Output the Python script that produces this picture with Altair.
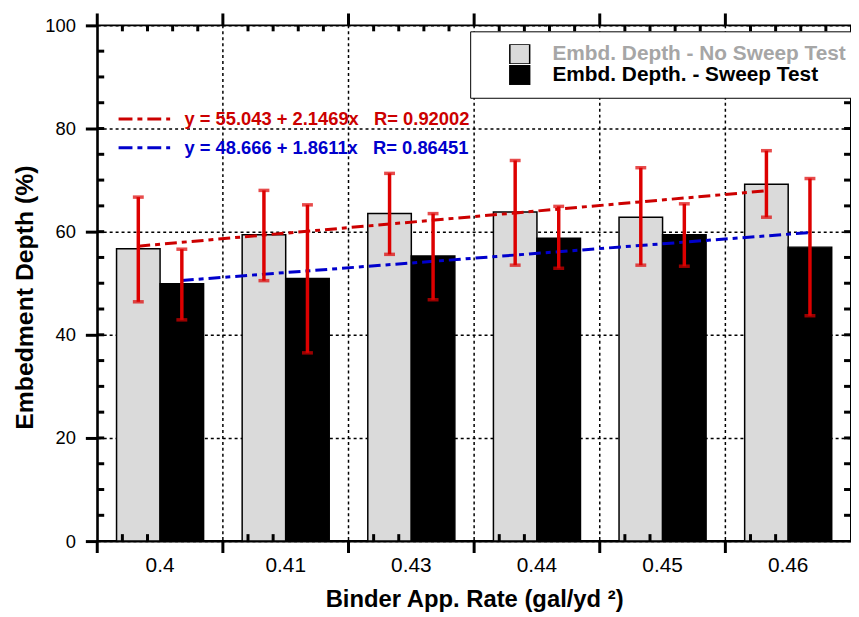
import altair as alt
import pandas as pd

# ---------------- data ----------------
categories = ["0.4", "0.41", "0.43", "0.44", "0.45", "0.46"]
series_names = ["Embd. Depth - No Sweep Test", "Embd. Depth. - Sweep Test"]

no_sweep = [56.7, 59.4, 63.5, 63.8, 62.8, 69.2]
no_sweep_low = [46.4, 50.5, 55.6, 53.5, 53.5, 62.8]
no_sweep_high = [66.7, 68.0, 71.3, 73.8, 72.4, 75.7]

sweep = [49.9, 50.9, 55.3, 58.7, 59.4, 57.0]
sweep_low = [42.9, 36.5, 46.8, 52.9, 53.3, 43.7]
sweep_high = [56.6, 65.2, 63.5, 64.9, 65.4, 70.3]

fit_labels = ["y = 55.043 + 2.1469x\u00a0\u00a0\u00a0R= 0.92002",
              "y = 48.666 + 1.8611x\u00a0\u00a0\u00a0R= 0.86451"]
fit_no_sweep = [57.19, 59.34, 61.48, 63.63, 65.78, 67.92]
fit_sweep = [50.53, 52.39, 54.25, 56.11, 57.97, 59.83]

y_ticks = [0, 20, 40, 60, 80, 100]
y_minor = [5 * k for k in range(1, 20)]
minor_fracs = [0.2, 0.4, 0.6, 0.8]

# ---------------- tables ----------------
rows = []
for i, c in enumerate(categories):
    rows.append(dict(cat=c, series=series_names[0], value=no_sweep[i], lo=no_sweep_low[i],
                     hi=no_sweep_high[i], fit=fit_no_sweep[i], fitlabel=fit_labels[0]))
    rows.append(dict(cat=c, series=series_names[1], value=sweep[i], lo=sweep_low[i],
                     hi=sweep_high[i], fit=fit_sweep[i], fitlabel=fit_labels[1]))
df = pd.DataFrame(rows)
cat_df = pd.DataFrame({"cat": categories})
inner_df = pd.DataFrame({"cat": categories[1:]})
ymin_df = pd.DataFrame({"v": y_minor})

W, H = 760, 520
FONT = "Liberation Sans, Arial, Helvetica, sans-serif"
ERR_RED = "#dd0000"
FIT_RED = "#cc0000"
FIT_BLUE = "#0000cc"
HATCH = "#dadada"

y_scale = alt.Scale(domain=[0, 100], nice=False)
y_axis = alt.Axis(values=y_ticks, title="Embedment Depth (%)", tickSize=12, tickWidth=3,
                  grid=True, gridDash=[3, 3], gridColor="black", gridWidth=1.5,
                  labelPadding=10, titleX=-65, titleY=274, titleBaseline="alphabetic",
                  titleAlign="center", titleAngle=270)


def yq(field):
    return alt.Y(field, scale=y_scale, axis=y_axis)


x_scale = alt.Scale(domain=categories, paddingInner=0, paddingOuter=0)
x_axis = alt.Axis(title="Binder App. Rate (gal/yd\u00a0\u00b2)", ticks=True, tickSize=12,
                  tickOpacity=0, grid=False, labelAngle=0, labelPadding=2,
                  titleY=66, titleBaseline="alphabetic")
x_main = alt.X("cat:N", sort=categories, scale=x_scale, axis=x_axis)
x_plain = alt.X("cat:N", sort=categories, axis=x_axis)
xoff = alt.XOffset("series:N", scale=alt.Scale(domain=series_names, paddingInner=0, paddingOuter=0.443))

fill_legend = alt.Legend(
    title=None, orient="none", legendX=376, legendY=6, direction="vertical",
    fillColor="white", strokeColor="black", padding=13,
    symbolType="square", symbolSize=400, symbolStrokeColor="black", symbolStrokeWidth=1.5,
    symbolOffset=26, labelOffset=22, labelFont=FONT, labelFontSize=21, labelFontWeight="bold",
    labelColor=alt.ExprRef(expr="datum.label == 'Embd. Depth - No Sweep Test' ? '#a6a6a6' : 'black'"),
    clipHeight=20, rowPadding=0, labelLimit=600)

stroke_legend = alt.Legend(
    title=None, orient="none", legendX=20, legendY=80, direction="vertical", padding=0,
    symbolType="stroke", symbolSize=2704, symbolStrokeWidth=3, symbolDash=[14, 5, 5, 5],
    labelOffset=13, labelFont=FONT, labelFontSize=18.5, labelFontWeight="bold",
    labelColor=alt.ExprRef(expr="indexof(datum.label, '55.043') >= 0 ? '" + FIT_RED + "' : '" + FIT_BLUE + "'"),
    clipHeight=29, rowPadding=0, labelLimit=600)

vgrid = alt.Chart(inner_df).mark_rule(color="black", strokeWidth=1.5, strokeDash=[3, 3]).encode(
    x=alt.X("cat:N", bandPosition=0, axis=x_axis), y=alt.value(0), y2=alt.value(H))

bars = alt.Chart(df).mark_bar(stroke="black", strokeWidth=1.5).encode(
    x=x_main, xOffset=xoff, y=yq("value:Q"),
    fill=alt.Fill("series:N", scale=alt.Scale(domain=series_names, range=[HATCH, "black"]),
                  legend=fill_legend))

fit = alt.Chart(df).mark_line(strokeWidth=3, strokeDash=[12, 5, 5, 5]).encode(
    x=x_plain, xOffset="series:N", y=yq("fit:Q"),
    stroke=alt.Stroke("fitlabel:N", scale=alt.Scale(domain=fit_labels, range=[FIT_RED, FIT_BLUE]),
                      legend=stroke_legend),
    detail="series:N")

err = alt.Chart(df).mark_rule(color=ERR_RED, strokeWidth=3.5).encode(
    x=x_plain, xOffset="series:N", y=yq("lo:Q"), y2="hi:Q")
cap_lo = alt.Chart(df).mark_tick(color=ERR_RED, size=11, thickness=3.5, orient="horizontal").encode(
    x=x_plain, xOffset="series:N", y=yq("lo:Q"))
cap_hi = alt.Chart(df).mark_tick(color=ERR_RED, size=11, thickness=3.5, orient="horizontal").encode(
    x=x_plain, xOffset="series:N", y=yq("hi:Q"))


def xrule(data, band, y0, y1, width):
    return alt.Chart(data).mark_rule(color="black", strokeWidth=width).encode(
        x=alt.X("cat:N", bandPosition=band, axis=x_axis), y=alt.value(y0), y2=alt.value(y1))


deco = [xrule(cat_df, 0, H, H + 12, 3), xrule(cat_df, 0, -12, 0, 3)]
for f in minor_fracs:
    deco.append(xrule(cat_df, f, H - 7, H, 3))
    deco.append(xrule(cat_df, f, 0, 6, 3))
deco.append(alt.Chart(ymin_df).mark_rule(color="black", strokeWidth=3).encode(
    y=yq("v:Q"), x=alt.value(0), x2=alt.value(7)))
deco.append(alt.Chart(ymin_df).mark_rule(color="black", strokeWidth=3).encode(
    y=yq("v:Q"), x=alt.value(W - 7), x2=alt.value(W)))

chart = alt.layer(vgrid, bars, fit, err, cap_lo, cap_hi, *deco).resolve_legend(
    fill="independent", stroke="independent"
).properties(
    width=W, height=H,
    padding={"left": 90, "top": 15, "right": 0, "bottom": 71},
    autosize=alt.AutoSizeParams(type="none"),
).configure_view(stroke="black", strokeWidth=2).configure_axis(
    labelFont=FONT, titleFont=FONT, titleFontWeight="bold",
    labelColor="black", titleColor="black", domainColor="black", domainWidth=2, tickColor="black"
).configure_axisX(labelFontSize=21, titleFontSize=24).configure_axisY(labelFontSize=18.5, titleFontSize=25)

chart.save("out.html", embed_options={"renderer": "svg", "actions": False})
